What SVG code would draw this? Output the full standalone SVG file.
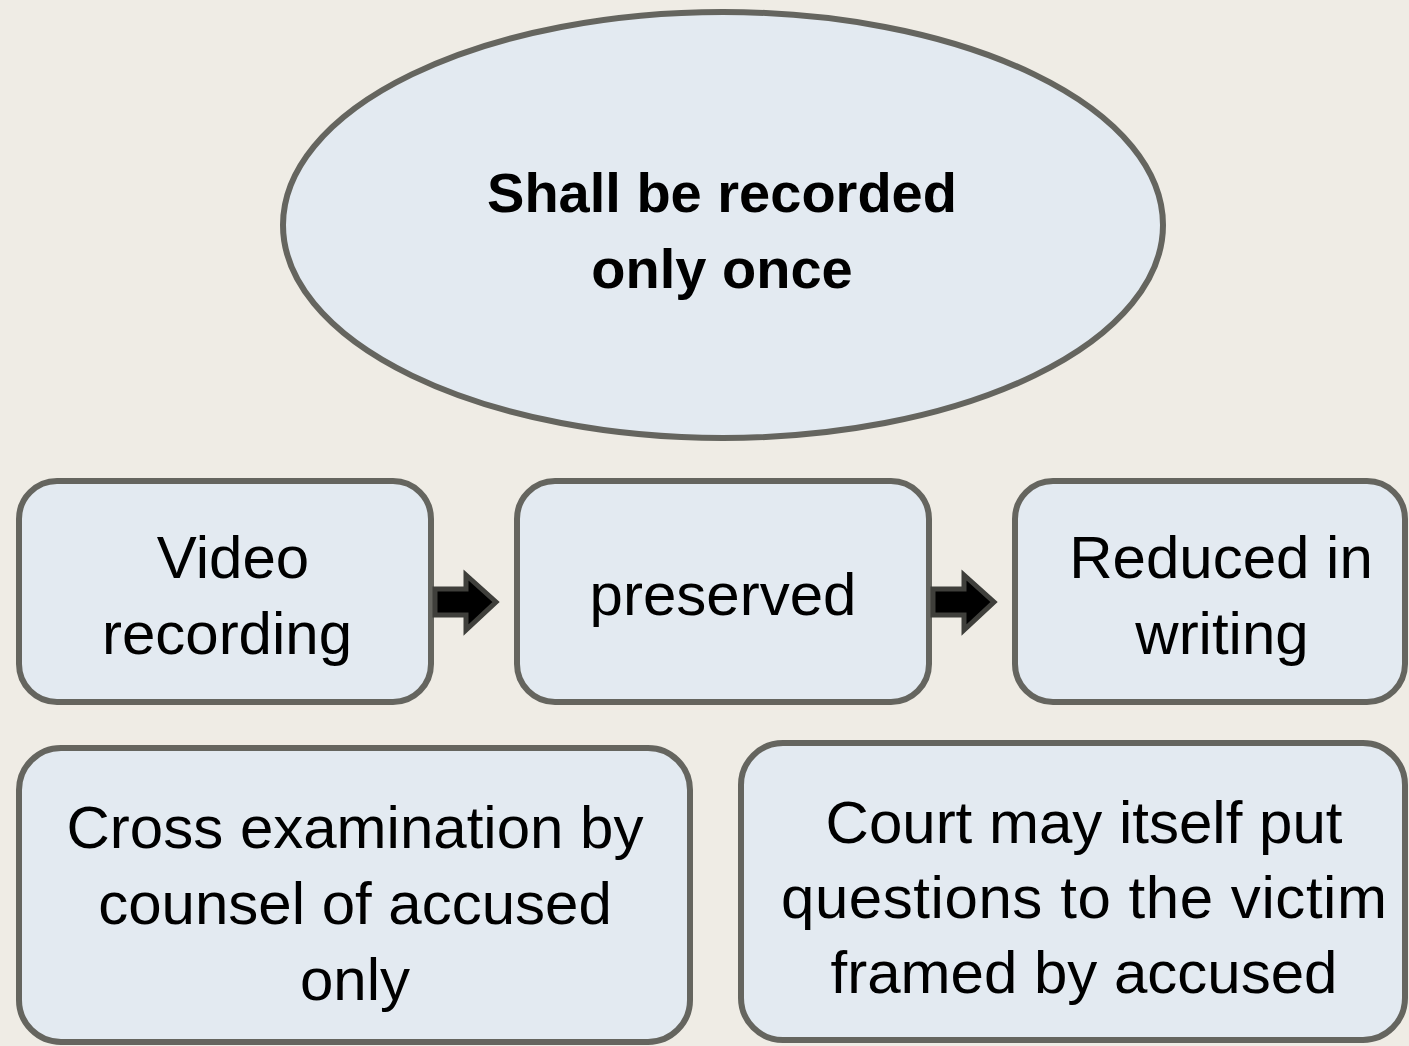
<svg xmlns="http://www.w3.org/2000/svg" width="1409" height="1046" viewBox="0 0 1409 1046">
<style>
.shape{fill:#E3EAF1;stroke:#65655F;stroke-width:6}
.t{font-family:"Liberation Sans",Arial,sans-serif;font-size:60px;fill:#000;text-anchor:middle}
.tb{font-family:"Liberation Sans",Arial,sans-serif;font-size:56px;font-weight:bold;fill:#000;text-anchor:middle}
.arrow{fill:#000;stroke:#3F3F3B;stroke-width:5;stroke-linejoin:miter}
</style>
<rect x="0" y="0" width="1409" height="1046" fill="#EFECE5"/>
<g id="ellipse-top">
<ellipse class="shape" cx="723" cy="225" rx="440" ry="213"/>
<text class="tb" x="722" y="212">Shall be recorded</text>
<text class="tb" x="722" y="288">only once</text>
</g>
<g id="box-video">
<rect class="shape" x="19" y="481" width="412" height="221" rx="38"/>
<text class="t" x="233" y="578">Video</text>
<text class="t" x="227" y="654">recording</text>
</g>
<g id="box-preserved">
<rect class="shape" x="517" y="481" width="412" height="221" rx="38"/>
<text class="t" x="723" y="615">preserved</text>
</g>
<g id="box-reduced">
<rect class="shape" x="1015" y="481" width="390" height="221" rx="38"/>
<text class="t" x="1221" y="578">Reduced in</text>
<text class="t" x="1222" y="654">writing</text>
</g>
<g id="box-cross">
<rect class="shape" x="19" y="748" width="671" height="294" rx="42"/>
<text class="t" x="355" y="848">Cross examination by</text>
<text class="t" x="355" y="924">counsel of accused</text>
<text class="t" x="355" y="1000">only</text>
</g>
<g id="box-court">
<rect class="shape" x="741" y="743" width="664" height="297" rx="42"/>
<text class="t" x="1084" y="843">Court may itself put</text>
<text class="t" x="1084" y="918" textLength="606" lengthAdjust="spacing">questions to the victim</text>
<text class="t" x="1084" y="993">framed by accused</text>
</g>
<g id="connectors">
<path class="arrow" d="M435,589 L466,589 L466,575 L496,602 L466,630 L466,615 L435,615 Z"/>
<path class="arrow" d="M933,589 L964,589 L964,575 L994,602 L964,630 L964,615 L933,615 Z"/>
</g>
</svg>
